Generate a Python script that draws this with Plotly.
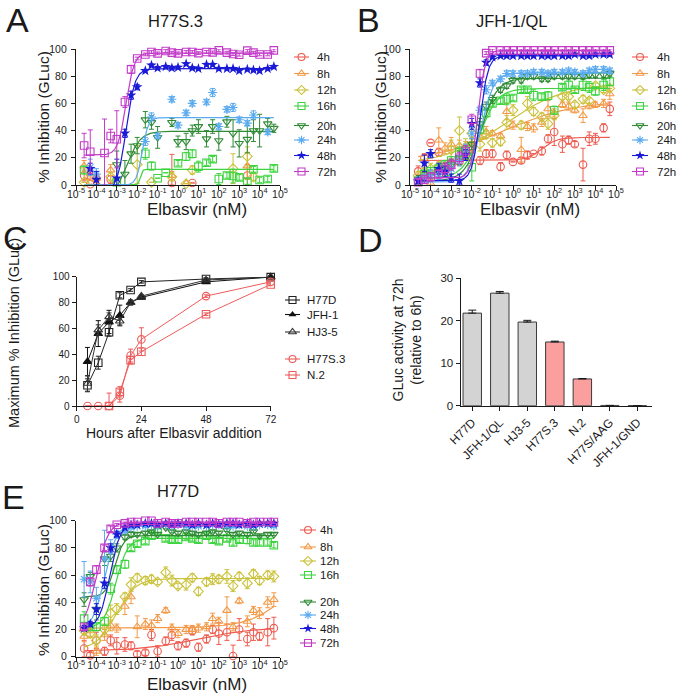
import numpy as np
import plotly.graph_objects as go

W, H = 676, 696
FONT = "Liberation Sans, Arial, sans-serif"
INK = "#1a1a1a"
N = None

# ---------------- shared dose-response data ----------------
conc = [2.5e-5, 5e-5, 1e-4, 2.5e-4, 5e-4, 1e-3, 2.5e-3, 5e-3, 1e-2, 2.5e-2, 5e-2, 0.1,
        0.25, 0.5, 1, 2.5, 5, 10, 25, 50, 100, 250, 500, 1000, 2500, 5000, 10000, 25000, 50000]
times = ["4h", "8h", "12h", "16h", "20h", "24h", "48h", "72h"]
series_colors = ["#EE5A4E", "#F39A48", "#CBC23C", "#3DD43F", "#2F8A36", "#5AAAF0", "#1A1AD6", "#C23AC8"]
series_symbols = ["circle-open", "triangle-up-open", "diamond-open", "square-open",
                  "triangle-down-open", "asterisk-open", "star", "square-open"]
log_ticks = [1e-5, 1e-4, 1e-3, 1e-2, 1e-1, 1, 10, 100, 1e3, 1e4, 1e5]
log_ticktext = ["10<sup>-5</sup>", "10<sup>-4</sup>", "10<sup>-3</sup>", "10<sup>-2</sup>", "10<sup>-1</sup>",
                "10<sup>0</sup>", "10<sup>1</sup>", "10<sup>2</sup>", "10<sup>3</sup>", "10<sup>4</sup>", "10<sup>5</sup>"]

# ---------------- Panel A: H77S.3 ----------------
A_4h = [7, 0.5, 5, N, 4, N, N, N, N, N, N, N, N, 1.5, N, N, 1.5, N, N, N, N, N, N, N, 7, N, N, N, N]
A_8h = [14, 8, 5, N, 11, N, N, N, N, N, N, N, N, 7, N, 1, N, N, N, N, N, N, N, N, 14, N, N, N, N]
A_12h = [2, N, N, N, 6, N, N, N, 15, N, 2, N, N, 6, N, 1, 11, N, N, N, N, N, 12, N, 21, 6, N, N, N]
A_16h = [11, N, N, N, N, 2, N, N, N, 23, 14, 5, 9, N, 16, 21, 23, 13.5, 16.4, 19, 4.4, 7, 6.6, 5.6, 2.5, 11.5, 3.7, 4.4, 12.2]
A_20h = [N, N, N, N, N, 15, 8, 23, 29, 48, 46, 35, N, 46, 32, 32, 40, 43, 34, 43, 32.6, 46.5, 38, 30.6, 33.6, 40, 40, 45, 41.7]
A_24h = [N, 13, 8, N, N, N, N, N, N, 32, 50, 36, N, 63, 44, 53, 60, N, 61, 68, 43, 55.6, 57, 48, 45.5, 51.5, N, 39, N]
A_48h = [N, 12, 4, N, N, 5, 38, 66, 72, 84, 88, 86, 87, 86, 86.5, 89, 86, 85.5, 88.5, 88.5, 85.5, 85.5, 85.5, 84, 85, 84.5, 84, 85.5, 87]
A_72h = [29, 24.5, N, 23.5, 36, 33.6, 61, 85, 93, 96, 97.8, 96.8, 98.5, 97.3, 96.8, 97.8, 97.8, 97, 97.8, 97.5, 99, 97.3, 96.3, 95.8, 98.8, 97.3, 96, 96, 99]
A_4h_err = [4, 0, 3, 0, 3, 0, 0, 0, 0, 0, 0, 0, 0, 21, 0, 0, 0, 0, 0, 0, 0, 0, 0, 0, 8, 0, 0, 0, 0]
A_8h_err = [4, 3, 3, 0, 4, 0, 0, 0, 0, 0, 0, 0, 0, 3, 0, 0, 0, 0, 0, 0, 0, 0, 0, 0, 10, 0, 0, 0, 0]
A_12h_err = [0, 0, 0, 0, 3, 0, 0, 0, 14, 0, 0, 0, 0, 3, 0, 0, 3, 0, 0, 0, 0, 0, 11, 0, 7, 3, 0, 0, 0]
A_16h_err = [3, 0, 0, 0, 0, 2, 0, 0, 0, 4, 3, 0, 0, 0, 2, 3, 3, 4, 2, 2, 4, 2, 5, 2, 2, 2, 2, 2, 2]
A_20h_err = [0, 0, 0, 0, 0, 10, 10, 7, 6, 6, 5, 8, 0, 3, 4, 6, 4, 5, 6, 5, 7, 4, 10, 10, 10, 8, 12, 4, 3]
A_24h_err = [0, 6, 4, 0, 0, 0, 0, 0, 0, 3, 3, 2, 0, 2, 2, 2, 2, 0, 2, 3, 2, 2, 3, 2, 2, 3, 0, 2, 0]
A_48h_err = [0, 4, 6, 0, 0, 14, 3, 3, 2, 1, 1, 1, 1, 1, 1, 1, 1, 1, 1, 1, 1, 1, 1, 1, 1, 1, 1, 1, 1]
A_72h_err = [9, 16, 0, 25, 5, 21, 4, 3, 1, 1, 1, 1, 1, 1, 1, 1, 1, 1, 1, 1, 1, 1, 1, 1, 1, 1, 1, 1, 1]
A_bottom = [7.5, 5, N, 0, -10, 0, -5, 22]
A_top = [-10, -10, N, 11.5, 39.5, 49.5, 85.5, 97]
A_logec50 = [-3.7, -3.5, N, -1.85, -2.5, -1.75, -2.55, -2.55]
A_hill = [1.0, 1.2, N, 8, 1.3, 3, 2, 2.2]

# ---------------- Panel B: JFH-1/QL ----------------
B_4h = [10, 20, 31, 24, 14, 15, 17, 22, 28, 18, 23, 23, 13.5, 22, 17, 18, 22, 23, 25, 34, 39, 30, 33, 30, 15, 34, 34, 42, 56]
B_8h = [5, 8, 1, 33, 27, 30, 29, 28, 30, 35, 39, 38, 36, 54, 44, 26, 43, 42, 46, 56, 53, 59, 58, 55, 51, 58, 59, 60, 67]
B_12h = [7, 10, 12, 14, 10, 26, 40, 28, 38, 30, 37, 31, 32, 46, 55, 44, 60, 54, 50, 45, 51, 65, 65, 59, 63, 62, 73, 70, 71]
B_16h = [3, 8, 10, 12, 15, 18, 24, 25, 13, 41, 53, 60, 62, 63, 64, 70, 70, 66, 65, 65.6, 55, 72, 73.5, 70, 73.5, 72, 69, 73.5, 76]
B_20h = [4, 6, 8, 10, 12, 15, 20, 24, 30, 45, 58, 63, 70, 73, 77, 77, 80, 80, 78, 78, 80, 80, 80, 80, 80, 81, 81, 81, 82]
B_24h = [3, 5, 7, 8, 10, 12, 18, 25, 38, 55, 70, 75, 78, 82, 82, 82, 82, 83, 83, 82, 83, 83, 84, 83, 82, 84, 85, 85, 84]
B_48h = [3, 16, 23, 12, 10, 5, 3, 22, 45, 75, 90, 94, 95, 95, 95, 95, 95, 95, 95, 95, 95, 95, 95, 96, 95, 95, 96, 96, 96]
B_72h = [2, 4, 6, 8, 12, 15, 20, 25, 48, 82, 97, 99, 99, 99, 99, 99, 99, 99, 99, 99, 99, 99, 99, 99, 99, 99, 99, 99, 99]
B_4h_err = [4, 3, 0, 3, 0, 2, 2, 3, 4, 3, 3, 3, 3, 3, 0, 2, 3, 0, 3, 3, 10, 6, 3, 2, 12, 5, 4, 3, 5]
B_8h_err = [3, 4, 3, 9, 4, 5, 4, 4, 5, 3, 4, 2, 2, 6, 3, 9, 3, 3, 3, 6, 3, 2, 3, 2, 5, 2, 2, 3, 4]
B_12h_err = [3, 3, 4, 3, 3, 7, 10, 6, 8, 5, 3, 3, 3, 5, 4, 3, 5, 3, 3, 4, 3, 2, 2, 2, 3, 2, 2, 2, 2]
B_16h_err = [2, 3, 3, 3, 3, 3, 4, 3, 10, 3, 3, 2, 2, 4, 2, 2, 2, 4, 2, 3, 3, 2, 3, 2, 4, 4, 3, 4, 3]
B_20h_err = [3, 3, 3, 4, 4, 4, 5, 5, 4, 4, 3, 3, 2, 2, 2, 2, 2, 2, 2, 2, 2, 2, 2, 2, 2, 2, 2, 2, 2]
B_24h_err = [3, 3, 4, 4, 4, 4, 4, 5, 4, 3, 3, 2, 2, 2, 2, 2, 2, 2, 2, 2, 2, 2, 2, 2, 2, 2, 2, 2, 2]
B_48h_err = [2, 6, 3, 4, 4, 3, 5, 4, 4, 3, 2, 1, 1, 1, 1, 1, 1, 1, 1, 1, 1, 1, 1, 1, 1, 1, 1, 1, 1]
B_72h_err = [2, 3, 3, 3, 4, 4, 4, 4, 4, 3, 1, 1, 1, 1, 1, 1, 1, 1, 1, 1, 1, 1, 1, 1, 1, 1, 1, 1, 1]
B_bottom = [18, 17, 15, 5, 3, 2, 3, 5]
B_top = [35, 62, 75, 71, 78.5, 82.5, 95, 99]
B_logec50 = [1.4, -0.5, -0.4, -1.6, -1.55, -1.55, -1.6, -1.7]
B_hill = [1.2, 0.25, 0.3, 1.0, 1.1, 1.4, 2.2, 2.5]

# ---------------- Panel E: H77D ----------------
E_4h = [6, 1, 12, 4, 12, 8, 9, 8, 2, 3, 16, 4, 11.5, 16, 8, 10, 19, 7, 13, 20, 17, 18, 0.5, 20, 13, 18, 15, 18, 21]
E_8h = [15, 19, 4, 16, 23, 21, 37, 44, 22, 24, 23, 28, 34, 21, 17, 20, 20, 21, 22, 28, 26, 34, 22, 41, 26, 34, 32, 40, 42]
E_12h = [19, 17, 12, 20, 32, 35, 44, 53, 58, 56, 57, 55, 62, 56, 52, 53, 58, 48, 55, 57, 57, 59, 52, 59, 54, 61, 56, 60, 59]
E_16h = [28, 22, 22, 26, 50, 64, 68, 80, 83, 85, 89, 92, 87, 86, 86, 88, 87, 86, 89, 86, 85, 87, 84, 86, 86, 84, 84, 84, 82]
E_20h = [42, 59, 35, 72, 74, 80, 88, 90, 90, 91, 92, 90, 95, 92, 91, 92, 91, 90, 91, 92, 91, 93, 90, 91, 90, 92, 89, 90, 90]
E_24h = [57, 55, 43, 72, 81, 90, 93, 95, 96, 96, 97, 96, 97, 96, 97, 96, 96, 96, 96, 97, 97, 96, 96, 97, 96, 96, 97, 97, 96]
E_48h = [21, 24, 35, 54, 80, 90, 95, 97, 97, 98, 98, 97, 98, 97, 98, 98, 97, 98, 97, 98, 97, 98, 98, 97, 98, 97, 98, 98, 98]
E_72h = [22, 55, 64, 80, 94, 97, 98, 99, 99, 100, 100, 98, 99, 98, 98, 99, 99, 99, 99, 99, 98, 99, 99, 99, 98, 99, 99, 99, 99]
E_4h_err = [6, 2, 6, 3, 4, 6, 5, 3, 2, 2, 4, 4, 3, 4, 3, 3, 3, 3, 3, 3, 8, 6, 8, 8, 5, 6, 3, 10, 8]
E_8h_err = [4, 4, 3, 4, 4, 3, 6, 5, 8, 4, 4, 3, 2, 3, 3, 3, 3, 3, 3, 4, 3, 10, 3, 2, 4, 3, 4, 4, 5]
E_12h_err = [3, 3, 4, 4, 6, 4, 3, 5, 3, 3, 3, 2, 4, 4, 2, 4, 3, 3, 3, 4, 3, 5, 4, 3, 4, 3, 3, 3, 4]
E_16h_err = [5, 3, 3, 3, 4, 3, 3, 2, 2, 2, 2, 2, 2, 2, 2, 2, 2, 2, 2, 2, 2, 2, 2, 2, 3, 2, 2, 2, 2]
E_20h_err = [5, 3, 8, 5, 4, 3, 2, 2, 1, 1, 1, 1, 1, 1, 1, 1, 1, 1, 1, 1, 1, 1, 1, 1, 1, 1, 1, 1, 1]
E_24h_err = [13, 8, 8, 21, 5, 3, 2, 1, 1, 1, 1, 1, 1, 1, 1, 1, 1, 1, 1, 1, 1, 1, 1, 1, 1, 1, 1, 1, 1]
E_48h_err = [2, 2, 4, 4, 3, 2, 1, 1, 1, 1, 1, 1, 1, 1, 1, 1, 1, 1, 1, 1, 1, 1, 1, 1, 1, 1, 1, 1, 1]
E_72h_err = [2, 3, 3, 2, 2, 1, 1, 1, 1, 1, 1, 1, 1, 1, 1, 1, 1, 1, 1, 1, 1, 1, 1, 1, 1, 1, 1, 1, 1]
E_bottom = [4, 21, 5, 21, 44, 20, 21, 20]
E_top = [22, 100, 57.5, 87, 89, 97, 98, 99]
E_logec50 = [1.0, 6.2, -3.05, -3.05, -3.1, -3.6, -3.35, -4.0]
E_hill = [0.3, 0.4, 0.9, 1.5, 2.0, 1.5, 1.7, 1.5]

# ---------------- Panel C: maximum inhibition vs time ----------------
C_hours = [4, 8, 12, 16, 20, 24, 48, 72]
C_names = ["H77D", "JFH-1", "HJ3-5", "H77S.3", "N.2"]
C_H77D = [16, 33.5, 57, 85.6, 89.7, 96, 98.2, 99.7]
C_JFH1 = [34.3, 56, 65, 70, 80, 84, 96, 99.7]
C_HJ35 = [17.5, 58.8, 69, 65.7, 80, 85, 97.4, 99.7]
C_H77S3 = [0, 0, 0, 8, 39, 51.5, 85, 96]
C_N2 = [N, N, 0, 11, 35.5, 42, 71, 94]
C_H77D_err = [5, 5, 3, 2, 1, 1, 1, 1]
C_JFH1_err = [11, 10, 9, 8, 2, 1, 1, 1]
C_HJ35_err = [6, 4, 3, 3, 1, 1, 1, 1]
C_H77S3_err = [0, 0, 10, 5, 5, 9, 1, 1]
C_N2_err = [0, 0, 0, 4, 3, 3, 1, 1]
C_colors = ["#222222", "#111111", "#333333", "#EE5B5B", "#EE5B5B"]
C_symbols = ["square-open", "triangle-up", "triangle-up-open", "circle-open", "square-open"]

# ---------------- Panel D: GLuc activity at 72h ----------------
D_strains = ["H77D", "JFH-1/QL", "HJ3-5", "H77S.3", "N.2", "H77S/AAG", "JFH-1/GND"]
D_values = [21.8, 26.5, 19.7, 15.0, 6.3, 0.06, 0.04]
D_err = [0.7, 0.4, 0.4, 0.2, 0.1, 0, 0]
D_colors = ["#D3D3D3", "#D3D3D3", "#D3D3D3", "#FA9E9E", "#FA9E9E", "#D3D3D3", "#D3D3D3"]


def px(x):
    return x / W


def py(y):
    return 1 - y / H


fig = go.Figure()


def err_arrays(vals, errs):
    plus = [e if v is not None else 0 for v, e in zip(vals, errs)]
    minus = [min(e, v) if v is not None else 0 for v, e in zip(vals, errs)]
    return plus, minus


def dose_panel(xa, ya, vals, errs, bottom, top, logec, hill):
    lo, hi = np.log10(conc[0]), np.log10(conc[-1])
    grid = np.linspace(lo, hi, 400)
    for i in range(8):
        c = series_colors[i]
        if bottom[i] is not None:
            yfit = bottom[i] + (top[i] - bottom[i]) / (1 + 10 ** ((logec[i] - grid) * hill[i]))
            fig.add_trace(go.Scatter(x=10 ** grid, y=yfit, mode="lines",
                                     line=dict(color=c, width=1.2),
                                     xaxis=xa, yaxis=ya, hoverinfo="skip", showlegend=False))
        plus, minus = err_arrays(vals[i], errs[i])
        sym = series_symbols[i]
        fig.add_trace(go.Scatter(
            x=conc, y=vals[i], mode="markers",
            marker=dict(symbol=sym, size=7.5 if sym != "star" else 8, color=c,
                        line=dict(color=c, width=1.1 if sym != "star" else 0)),
            error_y=dict(type="data", array=plus, arrayminus=minus, symmetric=False,
                         color=c, thickness=1, width=2.5),
            cliponaxis=False, xaxis=xa, yaxis=ya, showlegend=False))


dose_panel("x", "y", [A_4h, A_8h, A_12h, A_16h, A_20h, A_24h, A_48h, A_72h],
           [A_4h_err, A_8h_err, A_12h_err, A_16h_err, A_20h_err, A_24h_err, A_48h_err, A_72h_err],
           A_bottom, A_top, A_logec50, A_hill)
dose_panel("x2", "y2", [B_4h, B_8h, B_12h, B_16h, B_20h, B_24h, B_48h, B_72h],
           [B_4h_err, B_8h_err, B_12h_err, B_16h_err, B_20h_err, B_24h_err, B_48h_err, B_72h_err],
           B_bottom, B_top, B_logec50, B_hill)
dose_panel("x5", "y5", [E_4h, E_8h, E_12h, E_16h, E_20h, E_24h, E_48h, E_72h],
           [E_4h_err, E_8h_err, E_12h_err, E_16h_err, E_20h_err, E_24h_err, E_48h_err, E_72h_err],
           E_bottom, E_top, E_logec50, E_hill)

# Panel C traces
C_series = [C_H77D, C_JFH1, C_HJ35, C_H77S3, C_N2]
C_errs = [C_H77D_err, C_JFH1_err, C_HJ35_err, C_H77S3_err, C_N2_err]
for name, vals, errs, col, sym in zip(C_names, C_series, C_errs, C_colors, C_symbols):
    plus, minus = err_arrays(vals, errs)
    fig.add_trace(go.Scatter(
        x=C_hours, y=vals, mode="lines+markers", name=name,
        line=dict(color=col, width=1),
        marker=dict(symbol=sym, size=7.5, color=col, line=dict(color=col, width=1.1)),
        error_y=dict(type="data", array=plus, arrayminus=minus, symmetric=False,
                     color=col, thickness=1, width=2.5),
        cliponaxis=False, connectgaps=False, xaxis="x3", yaxis="y3", showlegend=False))

# Panel D bars
fig.add_trace(go.Bar(
    x=D_strains, y=D_values, width=0.67,
    marker=dict(color=D_colors, line=dict(color="#3a3a3a", width=1)),
    error_y=dict(type="data", array=D_err, arrayminus=[0] * len(D_err), symmetric=False,
                 color=INK, thickness=1, width=4),
    xaxis="x4", yaxis="y4", showlegend=False))

# ---------------- hand-placed legends on an overlay axis ----------------
annotations = []


def add_text(text, x, y, size, xanchor="center", yanchor="middle", angle=0):
    annotations.append(dict(text=text, x=px(x), y=py(y), xref="paper", yref="paper",
                            showarrow=False, xanchor=xanchor, yanchor=yanchor,
                            textangle=angle, font=dict(family=FONT, size=size, color=INK)))


def legend_block(x0, x1, xm, xt, ys, names, colors, symbols):
    for y, name, c, s in zip(ys, names, colors, symbols):
        fig.add_trace(go.Scatter(x=[x0, x1], y=[y, y], mode="lines", line=dict(color=c, width=1.1),
                                 xaxis="x6", yaxis="y6", showlegend=False, hoverinfo="skip",
                                 cliponaxis=False))
        fig.add_trace(go.Scatter(x=[xm], y=[y], mode="markers",
                                 marker=dict(symbol=s, size=7, color=c,
                                             line=dict(color=c, width=0 if s in ("star", "triangle-up") else 1.1)),
                                 xaxis="x6", yaxis="y6", showlegend=False, hoverinfo="skip",
                                 cliponaxis=False))
        add_text(name, xt, y, 11.5, xanchor="left")


legend_block(294, 309, 301.5, 315, [57, 73.5, 90, 106, 125.5, 140, 155.5, 171.5],
             times, series_colors, series_symbols)
legend_block(632, 648, 640, 655, [57, 73.5, 90, 106, 125.5, 140, 155.5, 171.5],
             times, series_colors, series_symbols)
legend_block(300, 316, 308, 318, [530, 547, 561, 575, 602, 615, 628.5, 643],
             times, series_colors, series_symbols)
legend_block(285, 300, 292.5, 305, [300, 314.5, 332, 359, 375],
             C_names, C_colors, C_symbols)

# ---------------- text ----------------
add_text("A", 17, 20, 34)
add_text("B", 368, 20, 34)
add_text("C", 15, 238, 34)
add_text("D", 370, 240, 34)
add_text("E", 13, 497, 34)
add_text("H77S.3", 175, 21, 16.5)
add_text("JFH-1/QL", 512, 21, 16.5)
add_text("H77D", 178, 491, 16.5)
add_text("Elbasvir (nM)", 197, 209, 17)
add_text("Elbasvir (nM)", 530, 209, 17)
add_text("Elbasvir (nM)", 197, 684, 17)
add_text("Hours after Elbasvir addition", 174, 433, 14)
add_text("% Inhibition (GLuc)", 43, 117, 15.5, angle=-90)
add_text("% Inhibition (GLuc)", 380, 117, 15.5, angle=-90)
add_text("% Inhibition (GLuc)", 43, 590, 15.5, angle=-90)
add_text("Maximum % Inhibition (GLuc)", 14, 333, 14.5, angle=-90)
add_text("GLuc activity at 72h<br>(relative to 6h)", 406.5, 340, 14, angle=-90)

# ---------------- axes ----------------
ax = dict(showline=True, linecolor=INK, linewidth=1.3, ticks="outside", ticklen=4, tickwidth=1.2,
          tickcolor=INK, showgrid=False, zeroline=False, fixedrange=True, automargin=False,
          tickangle=0, tickfont=dict(family=FONT, size=10.5, color=INK))
logx = dict(ax, type="log", range=[-5, 5], tickvals=log_ticks, ticktext=log_ticktext,
            ticklabelstandoff=-5)
pcty = dict(ax, range=[0, 100], tickvals=[0, 20, 40, 60, 80, 100], ticklabelstandoff=2)

layout = dict(
    template="none",
    width=W, height=H, margin=dict(l=0, r=0, t=0, b=0, pad=0, autoexpand=False),
    paper_bgcolor="white", plot_bgcolor="rgba(0,0,0,0)", showlegend=False,
    font=dict(family=FONT, color=INK),
    xaxis=dict(logx, domain=[px(76), px(280)], anchor="y"),
    yaxis=dict(pcty, domain=[py(185), py(49)], anchor="x"),
    xaxis2=dict(logx, domain=[px(410), px(616)], anchor="y2"),
    yaxis2=dict(pcty, domain=[py(185), py(49)], anchor="x2"),
    xaxis3=dict(ax, range=[0, 72], tickvals=[0, 24, 48, 72], domain=[px(76.7), px(270.7)], anchor="y3",
                tickfont=dict(family=FONT, size=10, color=INK)),
    yaxis3=dict(pcty, domain=[py(406), py(276.7)], anchor="x3", ticklabelstandoff=0,
                tickfont=dict(family=FONT, size=10, color=INK)),
    xaxis4=dict(ax, type="category", range=[-0.42, 6.52], domain=[px(460.7), px(651.7)], anchor="y4",
                tickangle=-45, tickfont=dict(family=FONT, size=12, color=INK)),
    yaxis4=dict(ax, range=[0, 30], tickvals=[0, 10, 20, 30], domain=[py(405.7), py(278.3)], anchor="x4",
                tickfont=dict(family=FONT, size=11.5, color=INK)),
    xaxis5=dict(logx, domain=[px(76), px(280)], anchor="y5"),
    yaxis5=dict(pcty, domain=[py(656.7), py(520.7)], anchor="x5"),
    xaxis6=dict(visible=False, range=[0, W], domain=[0, 1], anchor="y6", fixedrange=True,
                automargin=False),
    yaxis6=dict(visible=False, range=[H, 0], domain=[0, 1], anchor="x6", fixedrange=True,
                automargin=False),
    annotations=annotations,
)
fig.update_layout(**layout)
# remove the browser's default 8px body margin so the figure fills the window exactly
fig.write_html("out.html", config={"displayModeBar": False},
               post_script="document.body.style.margin='0';document.body.style.overflow='hidden';")
